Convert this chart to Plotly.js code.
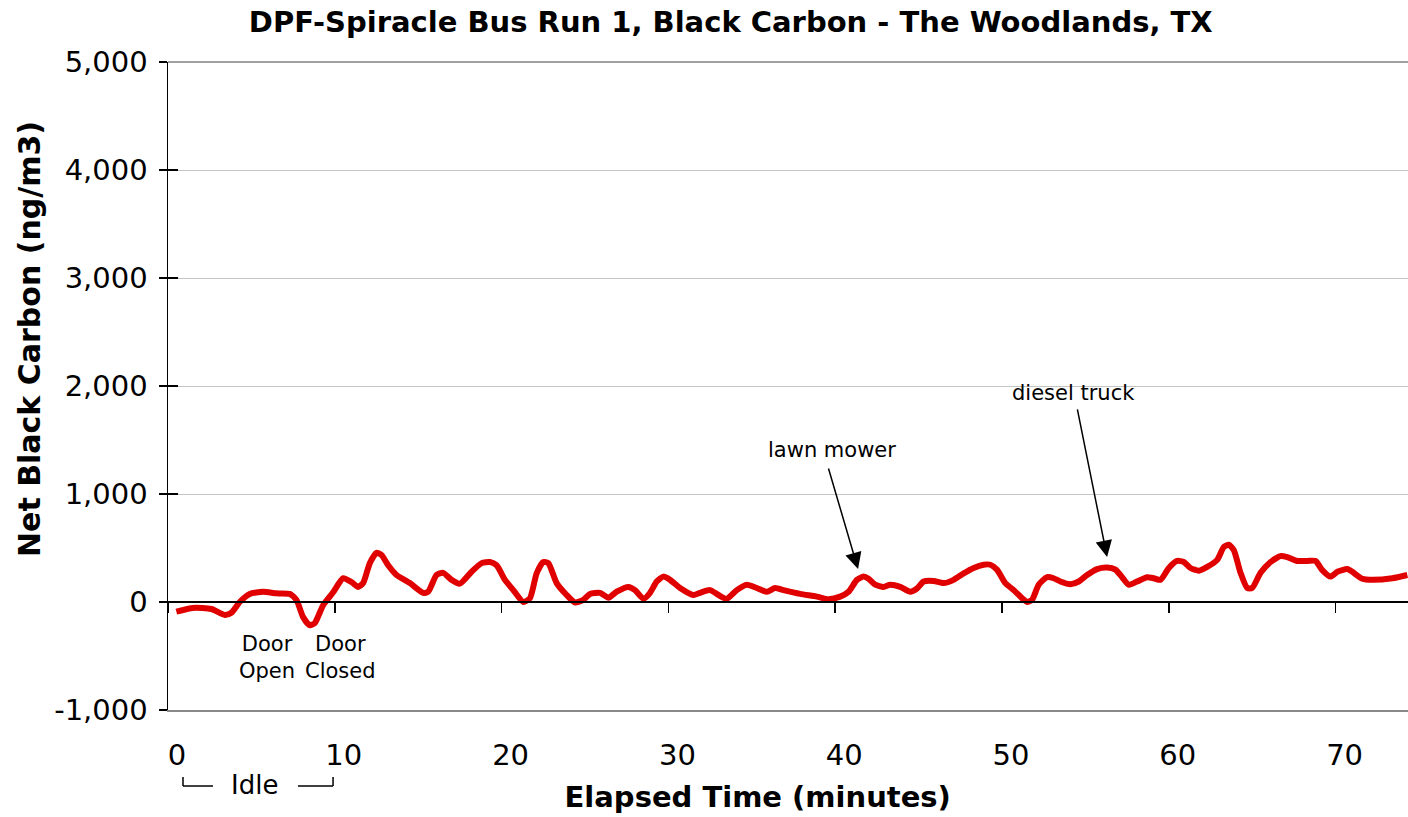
<!DOCTYPE html>
<html>
<head>
<meta charset="utf-8">
<script src="https://cdn.plot.ly/plotly-3.0.1.min.js"></script>
<style>html,body{margin:0;padding:0;background:#fff;}#chart{width:1408px;height:817px;}</style>
</head>
<body>
<div id="chart"></div>
<script>
const elapsedMinutes = [0.5,1.5,2.6,3.4,3.8,4.3,4.9,5.7,6.5,7.3,7.7,8.1,8.5,8.8,9.3,9.9,10.5,11.0,11.4,11.7,12.1,12.5,12.8,13.2,13.7,14.5,15.3,15.6,16.1,16.5,17.0,17.5,18.2,18.8,19.3,19.7,
  20.2,20.7,21.3,21.7,22.1,22.5,22.8,23.3,23.9,24.4,24.9,25.3,25.9,26.4,26.9,27.6,28.0,28.5,28.9,29.3,29.7,30.1,30.7,31.5,31.9,32.5,33.0,33.5,34.1,34.7,35.3,35.9,36.4,36.9,37.9,38.9,39.6,
  40.3,40.8,41.3,41.7,42.0,42.4,42.9,43.3,43.9,44.5,44.9,45.3,45.9,46.5,47.1,47.7,48.3,48.9,49.3,49.7,50.2,50.7,51.2,51.5,51.8,52.2,52.7,53.1,53.5,54.1,54.6,55.1,55.7,
  56.3,56.8,57.2,57.6,58.1,58.7,59.1,59.5,60.0,60.5,60.9,61.3,61.8,62.3,62.9,63.3,63.6,63.9,64.3,64.7,65.0,65.5,66.1,66.7,67.1,67.7,68.3,68.8,69.2,69.7,70.1,70.7,71.0,71.6,72.2,73.4,74.3];
const blackCarbon = [-90,-55,-65,-120,-100,0,75,95,80,75,20,-140,-215,-195,-30,90,220,185,140,175,360,455,435,340,250,175,85,95,250,270,205,170,280,360,370,340,
  205,110,0,35,265,370,360,175,65,-5,20,75,85,40,95,140,110,30,85,190,235,205,130,65,85,110,65,30,110,160,130,95,130,110,75,50,25,
  50,95,205,235,215,160,140,160,140,95,125,190,195,175,205,265,315,345,345,300,175,110,35,0,20,160,230,220,190,165,190,250,305,
  320,300,230,160,190,230,220,205,315,380,370,315,290,325,390,510,530,480,270,130,130,270,370,425,415,380,380,380,295,235,280,305,280,215,205,220,250];

const xTickVals = [0,10,20,30,40,50,60,70];
const yTickVals = [-1000,0,1000,2000,3000,4000,5000];
const yTickText = ['-1,000','0','1,000','2,000','3,000','4,000','5,000'];

const FONT = 'DejaVu Sans, Verdana, sans-serif';
const NB = '\u00a0';

const mainLine = {
  x: elapsedMinutes, y: blackCarbon, type: 'scatter', mode: 'lines',
  line: {color: '#e00000', width: 6, shape: 'spline', smoothing: 0.6},
  xaxis: 'x', yaxis: 'y', hoverinfo: 'skip'
};
// invisible copies so that the overlaying tick axes get drawn
const ghostX2 = {x: elapsedMinutes, y: blackCarbon, type: 'scatter', mode: 'lines',
  line: {color: 'rgba(0,0,0,0)', width: 0}, xaxis: 'x2', yaxis: 'y', hoverinfo: 'skip'};
const ghostY2 = {x: elapsedMinutes, y: blackCarbon, type: 'scatter', mode: 'lines',
  line: {color: 'rgba(0,0,0,0)', width: 0}, xaxis: 'x', yaxis: 'y2', hoverinfo: 'skip'};

const layout = {
  width: 1408, height: 817,
  margin: {l: 168, r: 0, t: 62, b: 107},
  paper_bgcolor: '#fff', plot_bgcolor: '#fff',
  showlegend: false,
  font: {family: FONT, color: '#000'},
  title: {text: '<b>DPF-Spiracle Bus Run 1, Black Carbon - The Woodlands, TX</b>', font: {family: FONT, size: 29, color: '#000'}, x: 0.519, xanchor: 'center', y: 0.973, yanchor: 'middle'},
  xaxis: {
    range: [0, 74.34], tickvals: xTickVals, ticktext: xTickVals.map(String),
    showgrid: false, zeroline: false, showline: true, linecolor: '#888', linewidth: 1.5,
    ticks: '', ticklabelstandoff: 19, ticklabelshift: 9,
    tickfont: {family: FONT, size: 29, color: '#000'},
    title: {text: '<b>Elapsed Time (minutes)' + NB.repeat(6) + '</b>', font: {family: FONT, size: 29, color: '#000'}, standoff: 15}
  },
  xaxis2: {
    overlaying: 'x', matches: 'x', anchor: 'free', position: 1/6,
    range: [0, 74.34], tickvals: xTickVals, showticklabels: false,
    showgrid: false, zeroline: false, showline: true, linecolor: '#000', linewidth: 2,
    ticks: 'outside', ticklen: 10, tickwidth: 1.5, tickcolor: '#000'
  },
  yaxis: {
    range: [-1000, 5000], tickvals: yTickVals, ticktext: yTickText,
    showgrid: true, gridcolor: '#c4c4c4', gridwidth: 1, zeroline: false,
    showline: true, linecolor: '#000', linewidth: 1.5,
    ticks: 'outside', ticklen: 8, tickwidth: 1.5, tickcolor: '#000', ticklabelstandoff: 5,
    tickfont: {family: FONT, size: 29, color: '#000'},
    title: {text: '<b>' + NB.repeat(9) + 'Net Black Carbon (ng/m3)</b>', font: {family: FONT, size: 30, color: '#000'}, standoff: 4}
  },
  yaxis2: {
    overlaying: 'y', matches: 'y', anchor: 'x', side: 'left',
    range: [-1000, 5000], tickvals: yTickVals, showticklabels: false,
    showgrid: false, zeroline: false, showline: false,
    ticks: 'inside', ticklen: 10, tickwidth: 1.5, tickcolor: '#000'
  },
  shapes: [
    {type: 'line', xref: 'paper', yref: 'paper', x0: 0, x1: 1, y0: 1, y1: 1, line: {color: '#808080', width: 1.5}},
    {type: 'line', xref: 'paper', yref: 'paper', x0: 0.0121, x1: 0.0121, y0: -0.1034, y1: -0.1173, line: {color: '#000', width: 1.5}},
    {type: 'line', xref: 'paper', yref: 'paper', x0: 0.0121, x1: 0.0363, y0: -0.1173, y1: -0.1173, line: {color: '#000', width: 1.5}},
    {type: 'line', xref: 'paper', yref: 'paper', x0: 0.1048, x1: 0.1331, y0: -0.1173, y1: -0.1173, line: {color: '#000', width: 1.5}},
    {type: 'line', xref: 'paper', yref: 'paper', x0: 0.1331, x1: 0.1331, y0: -0.1034, y1: -0.1173, line: {color: '#000', width: 1.5}}
  ],
  annotations: [
    {xref: 'x', yref: 'y', x: 5.94, y: -518, text: 'Door<br>Open', showarrow: false, font: {family: FONT, size: 21, color: '#000'}},
    {xref: 'x', yref: 'y', x: 10.37, y: -518, text: 'Door<br>Closed', showarrow: false, font: {family: FONT, size: 21, color: '#000'}},
    {xref: 'paper', yref: 'paper', x: 0.0694, y: -0.1157, xanchor: 'center', yanchor: 'middle', text: 'Idle', showarrow: false, font: {family: FONT, size: 26, color: '#000'}},
    {xref: 'x', yref: 'y', x: 39.8, y: 1407, text: 'lawn mower', showarrow: false, font: {family: FONT, size: 21, color: '#000'}},
    {xref: 'x', yref: 'y', x: 54.3, y: 1935, text: 'diesel truck', showarrow: false, font: {family: FONT, size: 21, color: '#000'}},
    {xref: 'x', yref: 'y', x: 41.37, y: 305, text: '', showarrow: true, axref: 'pixel', ayref: 'pixel', ax: -30, ay: -102, arrowhead: 2, arrowsize: 2.2, arrowwidth: 1.5, arrowcolor: '#000'},
    {xref: 'x', yref: 'y', x: 56.3, y: 417, text: '', showarrow: true, axref: 'pixel', ayref: 'pixel', ax: -30, ay: -149, arrowhead: 2, arrowsize: 2.2, arrowwidth: 1.5, arrowcolor: '#000'}
  ]
};

Plotly.newPlot('chart', [mainLine, ghostX2, ghostY2], layout, {staticPlot: true, displayModeBar: false});
</script>
</body>
</html>
